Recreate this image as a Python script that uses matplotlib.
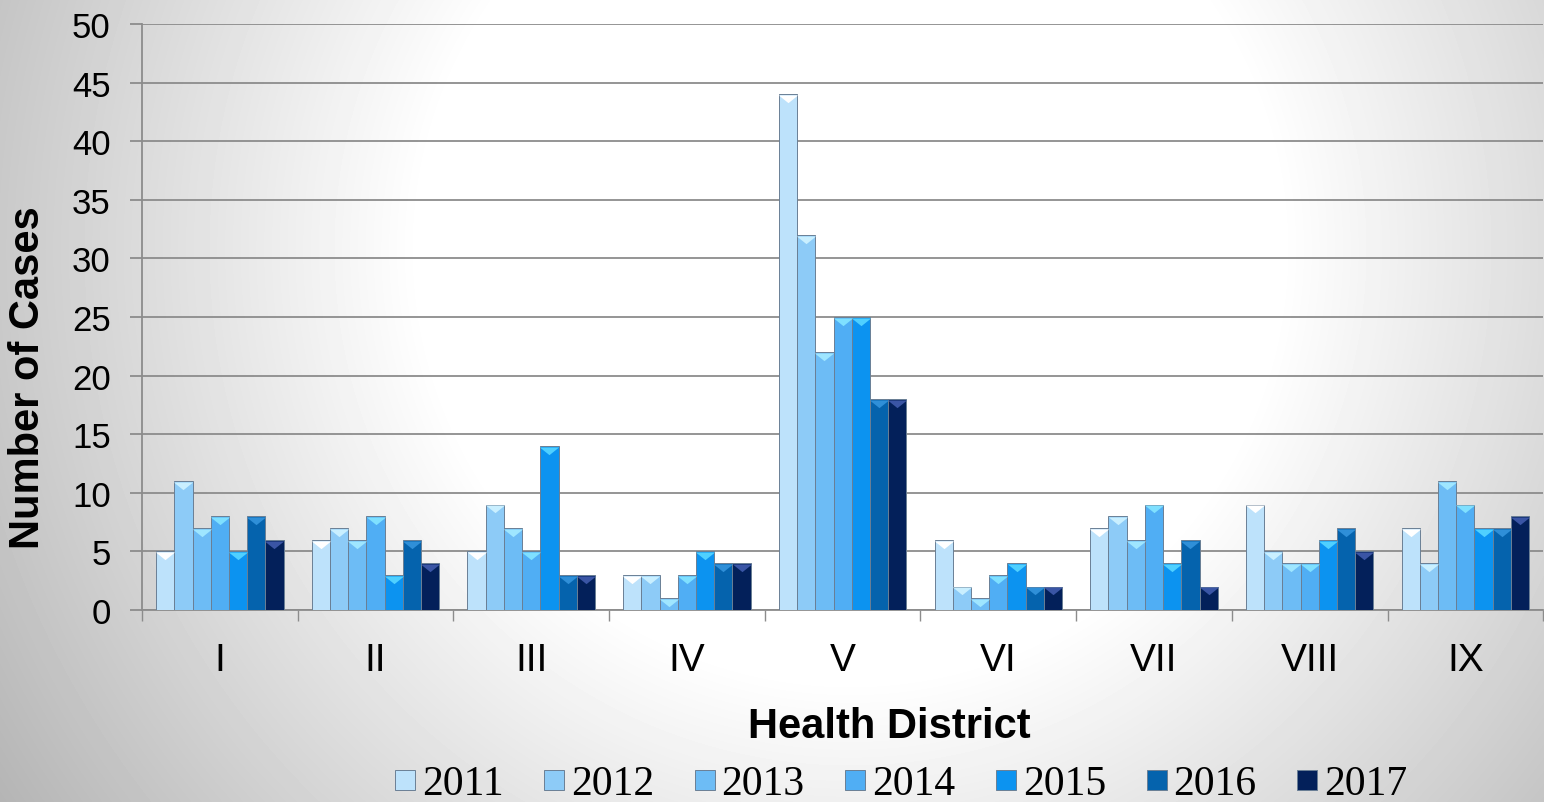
import numpy as np
import matplotlib.pyplot as plt
from matplotlib.lines import Line2D

# data
districts = ["I", "II", "III", "IV", "V", "VI", "VII", "VIII", "IX"]
years = ["2011", "2012", "2013", "2014", "2015", "2016", "2017"]
cases_2011 = [5, 6, 5, 3, 44, 6, 7, 9, 7]
cases_2012 = [11, 7, 9, 3, 32, 2, 8, 5, 4]
cases_2013 = [7, 6, 7, 1, 22, 1, 6, 4, 11]
cases_2014 = [8, 8, 5, 3, 25, 3, 9, 4, 9]
cases_2015 = [5, 3, 14, 5, 25, 4, 4, 6, 7]
cases_2016 = [8, 6, 3, 4, 18, 2, 6, 7, 7]
cases_2017 = [6, 4, 3, 4, 18, 2, 2, 5, 8]
series = [cases_2011, cases_2012, cases_2013, cases_2014, cases_2015, cases_2016, cases_2017]

colors = ["#bde2fb", "#8dcbf7", "#6dbcf5", "#50aef4", "#0c93f0", "#0563ad", "#03205a"]
tips = ["#ffffff", "#c9efff", "#9fe6ff", "#7fe0ff", "#4fd0ff", "#2f8fd8", "#3a55a5"]
edge = "#6a7f95"

fig = plt.figure(figsize=(15.44, 8.03), dpi=100)

# radial gray background
bg = fig.add_axes([0, 0, 1, 1], zorder=-10)
yy, xx = np.mgrid[0:803, 0:1544]
r = np.sqrt((xx - 850) ** 2 + (yy - 250) ** 2)
shade = 1.0 - 0.3 * np.clip((r - 430) / 600, 0, 1)
bg.imshow(shade, cmap="gray", vmin=0, vmax=1, aspect="auto", extent=[0, 1544, 803, 0])
bg.axis("off")

ax = fig.add_axes([142 / 1544, 1 - 611 / 803, 1 - 142 / 1544 - 0.0005, (611 - 25) / 803])
ax.patch.set_alpha(0)

tri = [(-1, 0), (1, 0), (0, -0.8), (-1, 0)]
x = np.arange(len(districts))
w = 0.117
for i, (vals, c, t) in enumerate(zip(series, colors, tips)):
    pos = x + (i - 3) * w
    ax.bar(pos, vals, width=w, color=c, edgecolor=edge, linewidth=0.7, zorder=3)
    ax.scatter(pos, np.array(vals) - 0.08, marker=tri, s=190, color=t, zorder=4, linewidths=0)

ax.set_xlim(-0.5, len(districts) - 0.5)
ax.set_ylim(0, 50)
ax.set_yticks(range(0, 51, 5))
ax.yaxis.grid(True, color="#8c8c8c", linewidth=1.3, zorder=0)
ax.set_axisbelow(True)

ax.set_xticks(x)
ax.set_xticklabels(districts, fontsize=28, fontfamily="Liberation Sans")
ax.set_xticks(np.arange(-0.5, len(districts), 1), minor=True)
ax.tick_params(axis="x", which="major", length=0, pad=23)
ax.tick_params(axis="x", which="minor", length=8, color="#8c8c8c", width=1)
ax.tick_params(axis="y", length=8.5, color="#8c8c8c", width=1.3, labelsize=25, pad=14)
for lab in ax.get_yticklabels():
    lab.set_fontfamily("Liberation Sans")

for s in ["top", "right"]:
    ax.spines[s].set_visible(False)
ax.spines["left"].set_color("#8c8c8c")
ax.spines["bottom"].set_color("#8c8c8c")
ax.spines["left"].set_linewidth(1.3)
ax.spines["bottom"].set_linewidth(1.3)

ax.set_xlabel("Health District", fontsize=30, fontweight="bold", fontfamily="Liberation Sans")
ax.set_ylabel("Number of Cases", fontsize=30, fontweight="bold", fontfamily="Liberation Sans")
ax.xaxis.set_label_coords((890 - 142) / 1402, (611 - 727) / 586)
ax.yaxis.set_label_coords((28 - 142) / 1402, (611 - 378) / 586)
ax.xaxis.label.set_va("center")
ax.yaxis.label.set_va("center")

handles = [Line2D([], [], marker="s", linestyle="", markersize=15, markerfacecolor=c,
                  markeredgecolor=edge, markeredgewidth=0.7) for c in colors]
fig.legend(handles, years, loc="center", bbox_to_anchor=(900 / 1544, 1 - 785 / 803), ncol=7,
           frameon=False, prop={"family": "Liberation Serif", "size": 30},
           handletextpad=0.1, columnspacing=0.92, handlelength=0.6, borderpad=0)

fig.savefig("out.png", dpi=100)
